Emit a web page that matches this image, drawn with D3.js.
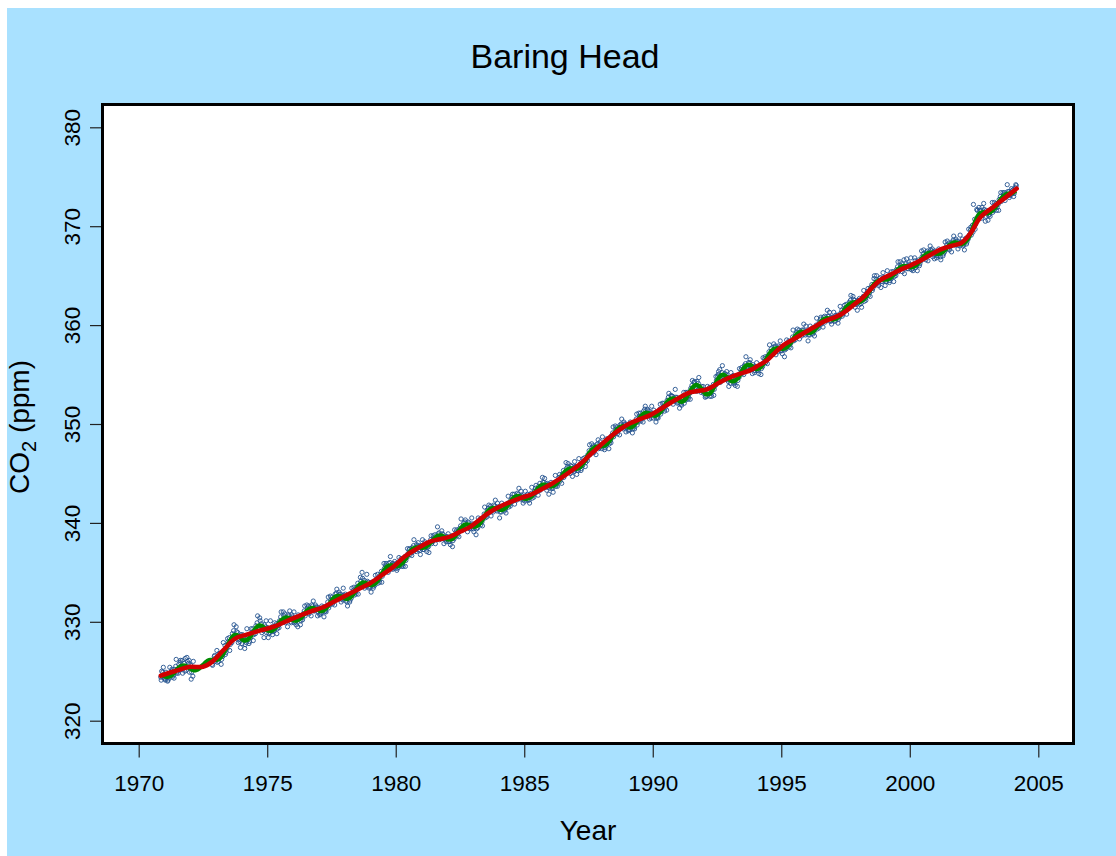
<!DOCTYPE html>
<html>
<head>
<meta charset="utf-8">
<title>Baring Head CO2</title>
<script src="https://cdn.jsdelivr.net/npm/d3@7"></script>
<style>
  html, body { margin: 0; padding: 0; background: #ffffff; }
  svg { display: block; }
  text { font-family: "Liberation Sans", Arial, Helvetica, sans-serif; fill: #000; }
</style>
</head>
<body>
<script>
// Axis ticks
const yearTicks = [1970, 1975, 1980, 1985, 1990, 1995, 2000, 2005];
const ppmTicks = [320, 330, 340, 350, 360, 370, 380];

// Smoothed long-term trend (red curve): decimal year / ppm
const trendYears = [1970.86, 1971.4, 1972.0, 1972.5, 1972.85, 1973.3, 1973.75, 1974.2, 1974.7, 1975.25,
  1975.7, 1976.15, 1976.65, 1977.2, 1977.65, 1978.1, 1978.55, 1979.0, 1979.45, 1979.9,
  1980.35, 1980.8, 1981.33, 1981.7, 1982.1, 1982.5, 1982.9, 1983.3, 1983.7, 1984.1,
  1984.45, 1984.85, 1985.25, 1985.6, 1986.0, 1986.4, 1986.8, 1987.2, 1987.55, 1987.95,
  1988.35, 1988.75, 1989.1, 1989.5, 1989.9, 1990.3, 1990.7, 1991.1, 1991.45, 1992.1,
  1992.5, 1992.9, 1993.35, 1993.8, 1994.1, 1994.45, 1994.75, 1995.1, 1995.5, 1995.85,
  1996.25, 1996.65, 1997.05, 1997.4, 1997.8, 1998.2, 1998.5, 1998.85, 1999.25, 1999.6,
  2000.0, 2000.4, 2000.9, 2001.25, 2001.6, 2002.0, 2002.35, 2002.75, 2003.25, 2003.75, 2004.16];
const trendPpm = [324.55, 325.0, 325.45, 325.45, 325.95, 327.15, 328.3, 328.7, 329.1, 329.5,
  330.0, 330.5, 331.0, 331.5, 332.1, 332.7, 333.3, 333.9, 334.7, 335.55,
  336.6, 337.35, 338.1, 338.35, 338.6, 339.1, 339.6, 340.4, 341.15, 341.7,
  342.1, 342.5, 342.85, 343.3, 343.85, 344.5, 345.2, 346.0, 346.85, 347.8,
  348.7, 349.5, 350.05, 350.5, 350.9, 351.5, 352.15, 352.75, 353.2, 353.5,
  354.05, 354.6, 355.05, 355.45, 355.9, 356.45, 357.2, 358.0, 358.6, 359.15,
  359.75, 360.35, 360.75, 361.2, 362.0, 362.85, 363.7, 364.55, 365.1, 365.55,
  366.0, 366.5, 367.25, 367.7, 368.0, 368.3, 369.25, 370.9, 371.95, 372.95, 373.8];

// Seasonal fit (green curve): one value per month, starting November 1970
const fitFirstMonth = 1970 + 10 / 12;
const fitPpm = [
  324.68, 324.56,
  324.47, 324.44, 324.49, 324.63, 324.84, 325.09, 325.32, 325.49, 325.56, 325.56, 325.47, 325.36,
  325.22, 325.12, 325.11, 325.18, 325.33, 325.53, 325.73, 325.93, 326.09, 326.14, 326.14, 326.18,
  326.17, 326.26, 326.46, 326.78, 327.2, 327.63, 328.04, 328.39, 328.64, 328.67, 328.57, 328.42,
  328.19, 328.1, 328.15, 328.33, 328.63, 328.98, 329.31, 329.54, 329.63, 329.57, 329.41, 329.2,
  329.1, 329.07, 329.14, 329.31, 329.56, 329.85, 330.13, 330.33, 330.42, 330.42, 330.34, 330.22,
  330.14, 330.12, 330.2, 330.35, 330.58, 330.84, 331.1, 331.28, 331.37, 331.38, 331.32, 331.22,
  331.11, 331.1, 331.19, 331.38, 331.65, 331.96, 332.26, 332.48, 332.6, 332.61, 332.55, 332.45,
  332.34, 332.32, 332.41, 332.62, 332.92, 333.26, 333.58, 333.82, 333.95, 333.96, 333.88, 333.77,
  333.72, 333.76, 333.9, 334.15, 334.47, 334.83, 335.18, 335.46, 335.63, 335.69, 335.69, 335.63,
  335.63, 335.68, 335.83, 336.05, 336.35, 336.69, 337.01, 337.27, 337.43, 337.52, 337.52, 337.49,
  337.49, 337.52, 337.64, 337.83, 338.04, 338.28, 338.51, 338.66, 338.72, 338.7, 338.6, 338.46,
  338.33, 338.32, 338.41, 338.61, 338.87, 339.19, 339.48, 339.71, 339.82, 339.84, 339.78, 339.68,
  339.61, 339.64, 339.78, 340.01, 340.32, 340.68, 341.01, 341.28, 341.44, 341.5, 341.48, 341.42,
  341.34, 341.31, 341.39, 341.57, 341.82, 342.12, 342.4, 342.61, 342.71, 342.71, 342.64, 342.51,
  342.45, 342.45, 342.55, 342.72, 342.97, 343.25, 343.52, 343.73, 343.84, 343.87, 343.82, 343.74,
  343.69, 343.74, 343.88, 344.09, 344.39, 344.71, 345.03, 345.28, 345.43, 345.51, 345.5, 345.47,
  345.47, 345.56, 345.74, 346.0, 346.35, 346.72, 347.08, 347.37, 347.58, 347.7, 347.74, 347.75,
  347.76, 347.83, 347.98, 348.22, 348.54, 348.88, 349.22, 349.48, 349.66, 349.76, 349.77, 349.76,
  349.69, 349.66, 349.75, 349.94, 350.19, 350.5, 350.78, 351.0, 351.11, 351.11, 351.05, 350.93,
  350.85, 350.86, 350.98, 351.2, 351.49, 351.83, 352.15, 352.4, 352.54, 352.58, 352.55, 352.46,
  352.31, 352.26, 352.36, 352.59, 352.95, 353.32, 353.66, 353.87, 353.94, 353.84, 353.61, 353.34,
  353.08, 353.0, 353.07, 353.32, 353.7, 354.13, 354.55, 354.84, 354.97, 354.93, 354.76, 354.54,
  354.38, 354.31, 354.38, 354.59, 354.9, 355.27, 355.63, 355.88, 355.98, 355.95, 355.81, 355.62,
  355.57, 355.62, 355.78, 356.04, 356.37, 356.74, 357.1, 357.39, 357.57, 357.65, 357.66, 357.62,
  357.61, 357.64, 357.77, 357.97, 358.25, 358.57, 358.87, 359.11, 359.25, 359.32, 359.3, 359.25,
  359.21, 359.22, 359.32, 359.5, 359.76, 360.05, 360.33, 360.54, 360.66, 360.7, 360.66, 360.59,
  360.57, 360.64, 360.77, 360.97, 361.25, 361.54, 361.84, 362.06, 362.21, 362.3, 362.31, 362.31,
  362.33, 362.44, 362.63, 362.88, 363.2, 363.55, 363.89, 364.17, 364.37, 364.5, 364.57, 364.61,
  364.61, 364.63, 364.73, 364.89, 365.12, 365.38, 365.63, 365.81, 365.93, 365.97, 365.95, 365.9,
  365.86, 365.89, 366.0, 366.17, 366.42, 366.68, 366.95, 367.14, 367.27, 367.32, 367.31, 367.27,
  367.22, 367.22, 367.28, 367.42, 367.63, 367.85, 368.08, 368.24, 368.32, 368.34, 368.29, 368.21,
  368.2, 368.32, 368.56, 368.87, 369.3, 369.85, 370.45, 370.93, 371.24, 371.38, 371.4, 371.35,
  371.32, 371.41, 371.57, 371.8, 372.1, 372.42, 372.74, 372.99, 373.17, 373.28, 373.32, 373.34,
  373.45, 373.6
];

// Flask samples taken early and late in each month, starting November 1970; null = no sample
const samplePpm = [
  324.4, 325.0, 324.9, 324.3,
  324.2, 324.9, 324.7, 324.1, 324.3, 324.8, 325.0, 324.4, 324.6, 325.2, 325.5, 324.8, 325.0, 325.7, 325.9, 325.2, 326.1, 325.3, 325.8, 326.3, 325.1, 326.0, 325.8, 324.9,
  325.6, 324.9, 324.5, 325.4, null, null, null, null, null, null, null, null, null, null, null, null, null, null, null, null, 325.7, 326.1, 326.5, 326.0,
  326.4, 325.9, 326.0, 326.6, 326.8, 326.2, 326.5, 327.1, 327.6, 326.9, 327.3, 328.0, 328.4, 327.7, 328.1, 328.8, 329.1, 328.3, 328.4, 329.0, 328.9, 328.2, 328.0, 328.7,
  327.8, 328.5, 328.3, 327.7, 327.9, 328.4, 328.6, 328.0, 328.4, 328.9, 329.3, 328.7, 329.0, 329.6, 329.9, 329.3, 329.4, 330.1, 329.8, 329.3, 329.1, 329.7, 329.5, 328.9,
  329.4, 328.8, 328.9, 329.3, 329.5, 329.0, 329.1, 329.6, 329.8, 329.3, 329.6, 330.1, 330.5, 329.9, 330.1, 330.6, 330.8, 330.2, 330.2, 330.7, 330.6, 330.0, 329.9, 330.5,
  330.4, 329.9, 330.0, 330.4, 329.5, 330.3, 330.6, 330.1, 330.4, 330.8, 331.1, 330.6, 330.9, 331.4, 331.6, 331.0, 331.2, 331.7, 331.6, 331.1, 331.1, 331.5, 331.5, 331.0,
  331.4, 330.8, 330.9, 331.3, 331.5, 331.0, 331.1, 331.6, 332.0, 331.4, 331.7, 332.2, 332.5, 332.0, 332.2, 332.8, 332.9, 332.4, 332.3, 332.8, 332.8, 332.3, 332.2, 332.7,
  332.6, 332.1, 332.0, 332.5, 332.7, 332.2, 332.4, 332.9, 333.2, 332.7, 333.0, 333.5, 333.9, 333.4, 333.6, 334.1, 335.0, 333.8, 334.2, 333.7, 333.6, 334.1, 334.0, 333.5,
  333.5, 334.0, 334.0, 333.6, 333.7, 334.1, 334.4, 333.9, 334.2, 334.7, 335.1, 334.6, 334.9, 335.4, 335.7, 335.2, 335.4, 335.9, 336.0, 335.5, 335.4, 335.9, 335.8, 335.4,
  335.9, 335.4, 335.5, 335.9, 336.1, 335.6, 335.8, 336.3, 336.6, 336.2, 336.5, 336.9, 337.3, 336.8, 337.0, 337.5, 337.7, 337.2, 337.3, 337.8, 337.7, 337.3, 337.2, 337.7,
  337.7, 337.3, 337.3, 337.7, 337.9, 337.5, 337.6, 338.0, 338.3, 337.9, 338.1, 338.5, 338.8, 338.3, 338.5, 338.9, 339.0, 338.5, 338.5, 338.9, 338.8, 338.4, 338.3, 338.6,
  338.6, 338.1, 338.1, 338.5, 338.7, 338.2, 338.4, 338.8, 339.1, 338.7, 339.0, 339.4, 339.7, 339.3, 339.5, 340.0, 340.1, 339.6, 339.6, 340.1, 340.0, 339.5, 339.4, 339.9,
  339.4, 339.9, 339.9, 339.4, 339.5, 340.0, 340.3, 339.8, 340.1, 340.5, 340.9, 340.5, 340.8, 341.3, 341.5, 341.1, 341.7, 341.2, 341.3, 341.8, 341.7, 341.3, 341.2, 341.6,
  341.6, 341.1, 341.1, 341.5, 341.6, 341.2, 341.4, 341.8, 342.0, 341.6, 341.9, 342.3, 342.6, 342.2, 342.9, 342.4, 342.5, 343.0, 342.9, 342.5, 342.4, 342.8, 342.7, 342.3,
  342.2, 342.7, 342.7, 342.3, 342.3, 342.8, 343.0, 342.5, 342.8, 343.2, 343.5, 343.1, 343.3, 343.7, 344.0, 343.5, 343.6, 344.1, 344.1, 343.7, 343.6, 344.0, 343.9, 343.5,
  343.9, 343.5, 343.5, 343.9, 344.1, 343.7, 343.9, 344.3, 344.6, 344.2, 344.5, 344.9, 345.3, 344.8, 345.1, 345.5, 345.7, 345.2, 345.3, 345.8, 345.7, 345.3, 345.2, 345.7,
  345.7, 345.3, 345.3, 345.8, 346.0, 345.5, 345.8, 346.2, 346.6, 346.1, 346.5, 346.9, 347.3, 346.9, 347.1, 347.6, 347.8, 347.4, 347.5, 347.9, 348.0, 347.5, 347.6, 347.9,
  347.5, 348.0, 348.1, 347.6, 347.8, 348.2, 348.5, 348.0, 348.3, 348.8, 349.1, 348.7, 349.0, 349.5, 349.7, 349.3, 349.4, 349.9, 350.0, 349.6, 349.5, 350.0, 350.0, 349.6,
  349.9, 349.4, 349.4, 349.9, 350.0, 349.5, 349.7, 350.2, 350.5, 349.9, 350.2, 350.8, 351.1, 350.5, 350.7, 351.3, 351.5, 350.9, 350.8, 351.4, 351.3, 350.8, 350.6, 351.1,
  350.6, 351.1, 351.1, 350.6, 350.7, 351.2, 351.5, 351.0, 351.3, 351.7, 352.1, 351.6, 351.9, 352.4, 352.7, 352.2, 352.3, 352.8, 352.8, 352.4, 352.3, 352.7, 352.7, 352.2,
  352.5, 352.1, 352.0, 352.5, 352.6, 352.1, 352.4, 352.8, 353.2, 352.7, 353.1, 353.6, 353.9, 353.4, 354.2, 353.7, 353.7, 354.3, 354.1, 353.6, 353.4, 353.8, 353.5, 353.1,
  353.3, 352.8, 352.8, 353.2, 353.3, 352.8, 353.1, 353.5, 354.0, 353.5, 353.9, 354.4, 354.8, 355.3, 355.5, 354.7, 355.2, 354.8, 354.7, 355.1, 355.0, 354.5, 354.3, 354.7,
  354.1, 354.6, 354.5, 354.1, 354.2, 354.6, 354.8, 354.4, 354.7, 355.1, 355.5, 355.1, 355.4, 355.9, 356.1, 355.7, 355.8, 356.2, 356.2, 355.7, 355.6, 356.0, 355.8, 355.4,
  355.8, 355.4, 355.4, 355.8, 356.0, 355.6, 355.8, 356.2, 356.6, 356.2, 356.5, 356.9, 357.3, 356.9, 357.6, 357.2, 357.3, 357.8, 357.9, 357.4, 357.5, 357.9, 357.8, 357.4,
  357.4, 357.8, 357.9, 357.5, 357.6, 358.0, 358.2, 357.8, 358.1, 358.4, 358.8, 358.4, 358.7, 359.1, 359.3, 358.9, 359.5, 359.1, 359.1, 359.5, 359.5, 359.1, 359.0, 359.4,
  359.4, 359.0, 359.0, 359.4, 359.5, 359.1, 359.3, 359.7, 360.0, 359.6, 359.9, 360.3, 360.6, 360.1, 360.3, 360.8, 360.9, 360.5, 360.5, 360.9, 360.9, 360.4, 360.4, 360.8,
  360.8, 360.4, 360.4, 360.8, 361.0, 360.6, 360.8, 361.2, 361.5, 361.1, 361.3, 361.7, 362.1, 361.6, 361.9, 362.3, 362.5, 362.0, 362.1, 362.6, 362.5, 362.1, 362.1, 362.5,
  362.5, 362.1, 362.2, 362.7, 362.9, 362.4, 362.7, 363.1, 363.4, 363.0, 363.3, 363.8, 364.1, 363.7, 364.7, 364.0, 364.6, 364.2, 364.3, 364.7, 364.8, 364.4, 364.4, 364.8,
  364.8, 364.4, 364.4, 364.9, 365.0, 364.5, 364.7, 365.1, 365.4, 364.9, 365.2, 365.6, 365.9, 365.4, 365.6, 366.0, 366.2, 365.7, 366.6, 365.8, 366.2, 365.7, 365.7, 366.1,
  366.1, 365.6, 365.7, 366.1, 366.8, 365.8, 366.0, 366.4, 366.6, 366.2, 366.5, 366.9, 367.2, 366.8, 366.9, 367.4, 367.5, 367.1, 367.1, 367.6, 367.5, 366.9, 367.1, 367.5,
  367.4, 367.0, 367.0, 367.4, 366.9, 367.5, 367.6, 367.2, 367.4, 367.8, 368.1, 367.7, 368.3, 367.9, 368.0, 368.4, 368.6, 368.1, 368.1, 368.5, 368.5, 368.1, 368.0, 368.4,
  368.4, 368.0, 368.1, 368.5, 368.8, 368.4, 368.7, 369.1, 369.6, 369.1, 370.1, 372.2, 370.7, 370.2, 371.7, 370.8, 371.9, 371.1, 371.6, 371.9, 371.2, 371.7, 370.5, 371.6,
  371.5, 371.1, 371.2, 371.6, 371.8, 371.4, 371.6, 372.0, 372.3, 371.9, 372.2, 372.7, 373.0, 372.5, 372.8, 373.2, 373.4, 373.0, 373.1, 373.5, 373.5, 373.1, 373.2, 373.6,
  373.7, 373.3, 373.9, 374.1
];

// Mid-month samples, starting November 1970; null = no sample
const midSamplePpm = [
  324.1, 325.4,
  324.1, 324.0, 325.4, 325.2, 324.3, 326.2, 324.8, 326.1, 324.8, 325.0, 326.4, 326.1,
  324.2, 326.0, null, null, null, null, null, null, null, null, 325.6, 326.6,
  327.1, 326.8, 325.7, 327.9, 326.7, 328.3, 327.1, 327.9, 329.7, 329.5, 327.9, 327.4,
  328.7, 327.3, 329.3, 327.8, 329.3, 328.1, 328.8, 330.6, 330.4, 328.9, 328.4, 330.1,
  328.4, 330.1, 328.7, 329.9, 328.8, 329.4, 331.0, 331.0, 329.9, 329.5, 331.1, 330.7,
  331.0, 329.7, 330.7, 329.7, 330.2, 331.6, 331.7, 330.8, 330.6, 332.1, 331.7, 330.6,
  330.7, 331.6, 330.5, 331.0, 332.5, 332.6, 331.8, 331.7, 333.3, 333.0, 332.0, 333.4,
  332.8, 331.6, 332.0, 333.4, 333.5, 332.8, 332.8, 334.5, 334.4, 333.4, 334.8, 333.4,
  333.0, 333.4, 334.7, 334.8, 334.0, 334.0, 335.9, 335.9, 335.0, 336.6, 335.3, 336.1,
  335.2, 336.5, 336.4, 335.6, 335.6, 337.4, 337.4, 336.7, 338.3, 337.1, 338.0, 336.8,
  338.3, 338.1, 337.1, 337.0, 338.7, 338.7, 337.9, 339.6, 338.3, 339.2, 337.9, 338.1,
  338.9, 337.8, 337.6, 339.3, 339.3, 338.6, 340.4, 339.3, 340.3, 339.1, 339.4, 340.5,
  339.1, 338.8, 340.5, 340.4, 339.7, 341.6, 340.6, 341.8, 340.7, 341.1, 342.3, 342.0,
  340.5, 342.0, 341.8, 341.0, 342.7, 341.7, 342.9, 341.9, 342.3, 343.5, 343.2, 342.0,
  343.2, 342.9, 342.0, 343.6, 342.6, 343.8, 342.8, 343.3, 344.6, 344.5, 343.3, 342.9,
  344.1, 343.1, 344.8, 343.7, 344.9, 344.0, 344.6, 346.1, 346.0, 345.0, 344.7, 346.2,
  344.9, 346.5, 345.3, 346.5, 345.7, 346.3, 347.9, 348.0, 347.1, 346.9, 348.4, 348.2,
  348.7, 347.4, 348.5, 347.5, 348.1, 349.7, 349.8, 349.0, 348.9, 350.5, 350.2, 349.2,
  349.3, 350.2, 349.1, 349.5, 351.0, 351.1, 350.3, 350.2, 351.8, 351.5, 350.5, 351.8,
  351.4, 350.2, 350.6, 352.0, 352.1, 351.3, 351.4, 353.1, 352.9, 352.0, 353.5, 352.1,
  351.6, 351.9, 353.2, 353.2, 352.5, 352.5, 354.4, 354.3, 353.3, 354.7, 353.2, 353.8,
  352.7, 353.8, 353.7, 352.8, 352.9, 354.8, 355.0, 354.2, 355.9, 354.5, 355.3, 353.8,
  355.2, 354.9, 353.9, 353.8, 355.6, 355.7, 355.0, 356.8, 355.6, 356.5, 355.1, 355.2,
  356.2, 355.1, 355.0, 356.7, 356.8, 356.1, 358.0, 357.0, 358.1, 357.0, 357.3, 358.4,
  357.1, 356.8, 358.5, 358.4, 357.7, 359.5, 358.5, 359.6, 358.6, 358.9, 360.1, 359.9,
  358.4, 359.9, 359.7, 358.9, 360.7, 359.7, 360.8, 359.8, 360.3, 361.5, 361.3, 360.1,
  361.3, 361.0, 360.2, 361.9, 360.9, 362.0, 361.1, 361.7, 363.0, 362.9, 361.8, 361.5,
  362.7, 361.8, 363.5, 362.5, 363.7, 362.9, 363.5, 365.0, 365.0, 364.0, 363.8, 365.3,
  364.0, 365.5, 364.3, 365.4, 364.4, 365.0, 366.4, 366.4, 365.4, 365.2, 366.7, 366.3,
  366.8, 365.5, 366.5, 365.5, 366.0, 367.5, 367.6, 366.6, 366.5, 368.0, 367.7, 366.7,
  366.8, 367.7, 366.6, 367.0, 368.4, 368.5, 367.6, 367.4, 369.0, 368.7, 367.7, 369.1,
  368.7, 367.6, 368.2, 369.7, 369.9, 369.4, 369.7, 371.6, 371.6, 370.8, 372.3, 371.0,
  370.6, 371.0, 372.4, 372.4, 371.6, 371.6, 373.4, 373.4, 372.6, 374.2, 372.9, 373.8,
  373.0, 374.2
];

const W = 1116, H = 856;
const svg = d3.select("body").append("svg")
  .attr("width", W).attr("height", H)
  .attr("viewBox", `0 0 ${W} ${H}`);

// Figure background
svg.append("rect").attr("x", 0).attr("y", 0).attr("width", W).attr("height", H).attr("fill", "#ffffff");
svg.append("rect").attr("x", 7).attr("y", 8).attr("width", W - 7).attr("height", H - 8).attr("fill", "#a9e1ff");

// Plot region
const box = { left: 102.5, top: 104.5, right: 1073.5, bottom: 743.5 };
svg.append("rect")
  .attr("x", box.left).attr("y", box.top)
  .attr("width", box.right - box.left).attr("height", box.bottom - box.top)
  .attr("fill", "#ffffff");

const x = d3.scaleLinear().domain([1970, 2005]).range([138.7, 1038.3]);
const y = d3.scaleLinear().domain([320, 380]).range([720.7, 127.3]);

svg.append("clipPath").attr("id", "plotClip")
  .append("rect")
  .attr("x", box.left).attr("y", box.top)
  .attr("width", box.right - box.left).attr("height", box.bottom - box.top);

const plot = svg.append("g").attr("clip-path", "url(#plotClip)");

// Samples as open circles
const samples = samplePpm
  .map((v, j) => ({ t: fitFirstMonth + (Math.floor(j / 2) + (j % 2 ? 0.72 : 0.28)) / 12, v }))
  .concat(midSamplePpm.map((v, i) => ({ t: fitFirstMonth + (i + 0.5) / 12, v })))
  .filter(d => d.v !== null);

plot.append("g")
  .selectAll("circle")
  .data(samples)
  .join("circle")
  .attr("cx", d => x(d.t))
  .attr("cy", d => y(d.v))
  .attr("r", 2.1)
  .attr("fill", "none")
  .attr("stroke", "#24528f")
  .attr("stroke-width", 0.9);

// Seasonal fit
const fit = fitPpm.map((v, i) => ({ t: fitFirstMonth + (i + 0.5) / 12, v }));
const line = d3.line().x(d => x(d.t)).y(d => y(d.v)).curve(d3.curveCatmullRom.alpha(0.5));

plot.append("path")
  .datum(fit)
  .attr("d", line)
  .attr("fill", "none")
  .attr("stroke", "#008a00")
  .attr("stroke-width", 4.5)
  .attr("stroke-linejoin", "round");

// Long-term trend
const trend = trendYears.map((t, i) => ({ t, v: trendPpm[i] }));
plot.append("path")
  .datum(trend)
  .attr("d", line)
  .attr("fill", "none")
  .attr("stroke", "#d10000")
  .attr("stroke-width", 4.5)
  .attr("stroke-linejoin", "round")
  .attr("stroke-linecap", "round");

// Plot frame
svg.append("rect")
  .attr("x", box.left).attr("y", box.top)
  .attr("width", box.right - box.left).attr("height", box.bottom - box.top)
  .attr("fill", "none")
  .attr("stroke", "#000")
  .attr("stroke-width", 3);

// X axis
const xAxis = svg.append("g")
  .attr("transform", `translate(0,${box.bottom + 1.5})`)
  .call(d3.axisBottom(x).tickValues(yearTicks).tickFormat(d3.format("d")).tickSize(12.5).tickPadding(18));
xAxis.select(".domain").remove();
xAxis.selectAll(".tick line").attr("stroke", "#222").attr("stroke-width", 1.2);
xAxis.selectAll(".tick text")
  .attr("font-size", 22.5)
  .attr("font-family", "'Liberation Sans', Arial, Helvetica, sans-serif")
  .attr("fill", "#000");

// Y axis with vertical tick labels
const yAxis = svg.append("g")
  .attr("transform", `translate(${box.left - 1.5},0)`)
  .call(d3.axisLeft(y).tickValues(ppmTicks).tickFormat(d3.format("d")).tickSize(11));
yAxis.select(".domain").remove();
yAxis.selectAll(".tick line").attr("stroke", "#222").attr("stroke-width", 1.2);
yAxis.selectAll(".tick text")
  .attr("x", 0).attr("y", 0).attr("dy", 0)
  .attr("text-anchor", "middle")
  .attr("transform", "translate(-21,0) rotate(-90)")
  .attr("font-size", 22.5)
  .attr("font-family", "'Liberation Sans', Arial, Helvetica, sans-serif")
  .attr("fill", "#000");

// Titles
svg.append("text")
  .attr("x", 565).attr("y", 68)
  .attr("text-anchor", "middle")
  .attr("font-size", 34)
  .text("Baring Head");

svg.append("text")
  .attr("x", (box.left + box.right) / 2).attr("y", 840)
  .attr("text-anchor", "middle")
  .attr("font-size", 28)
  .text("Year");

const yTitle = svg.append("text")
  .attr("transform", `translate(29,${(box.top + box.bottom) / 2 + 3}) rotate(-90)`)
  .attr("text-anchor", "middle")
  .attr("font-size", 28);
yTitle.append("tspan").text("CO");
yTitle.append("tspan").attr("font-size", 20).attr("dy", 7).text("2");
yTitle.append("tspan").attr("dy", -7).text(" (ppm)");
</script>
</body>
</html>
